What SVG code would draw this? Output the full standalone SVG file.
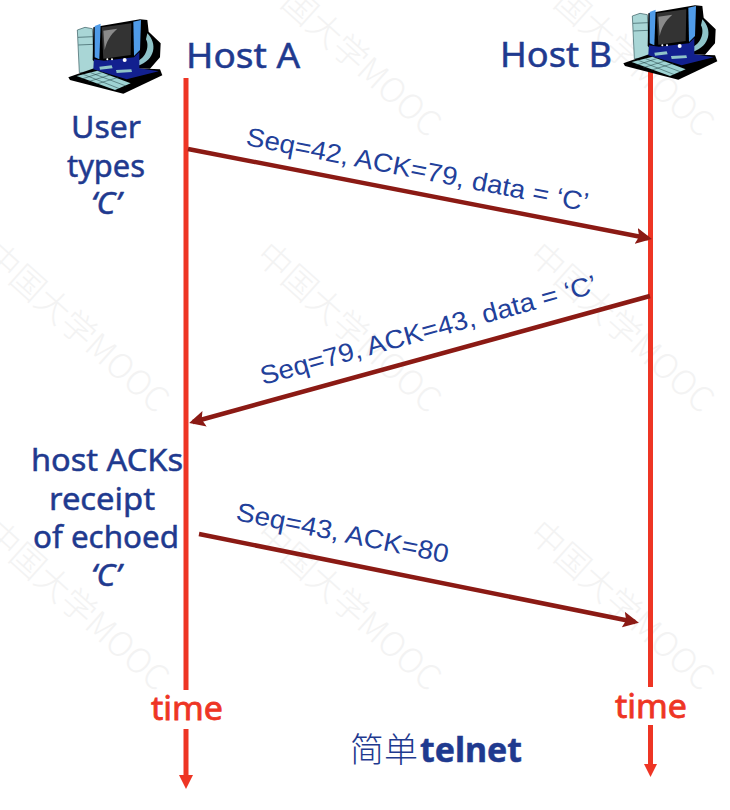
<svg xmlns="http://www.w3.org/2000/svg" width="730" height="810" viewBox="0 0 730 810">
<style>
.wm{font-family:"Noto Sans CJK SC","Noto Sans",sans-serif;font-size:34px;font-weight:300;fill:#f3f3f3}
.hand{font-family:"Noto Sans","Noto Sans CJK SC",sans-serif;fill:#1f3a8f;stroke:#1f3a8f;stroke-width:.5px}
.big{font-size:34px}
.mid{font-size:31px}
.seq{font-family:"Liberation Sans",Arial,sans-serif;font-size:26px;fill:#22409a}
.time{font-family:"Noto Sans",sans-serif;font-size:33px;fill:#ee3524;stroke:#ee3524;stroke-width:.8px}
.life{stroke:#ee3524;stroke-width:5;fill:none}
.msg{stroke:#8b1a14;stroke-width:4.500;fill:none;marker-end:url(#ah)}
</style>
<defs>
<marker id="ah" markerUnits="userSpaceOnUse" markerWidth="18" markerHeight="16" refX="12" refY="8" orient="auto"><path d="M0,0L16,8L0,16L3,8Z" fill="#8b1a14"/></marker>
<g id="pc">
<path d="M52,90L75,82L97,86L104,215L58,218Z" fill="#a9d6d6" stroke="#33585c" stroke-width="2"/>
<path d="M54,112L100,110M55,135L100,133" stroke="#33585c" stroke-width="2" fill="none"/>
<path d="M25,232L115,200L300,208L307,226L190,281L30,240Z" fill="#000"/>
<path d="M100,82L240,58L262,60L266,95L302,130L300,172L270,206L120,200L98,180Z" fill="#000"/>
<path d="M262,100C292,130 288,180 232,198L228,186C262,172 268,135 258,118Z" fill="#8fc4c8"/>
<path d="M104,78L122,71L118,178L104,172Z" fill="#4f9be8"/>
<path d="M220,65L243,60L240,150L222,168Z" fill="#4f9be8"/>
<path d="M125,82L214,70L212,165L130,176Z" fill="#333"/>
<path d="M130,92L172,86C150,105 140,125 134,150Z" fill="#8a8a8a"/>
<path d="M102,178L132,182L222,172L238,156L238,205L296,214L200,238L100,208Z" fill="#12208f"/>
<circle cx="142" cy="178" r="3" fill="#fff"/><circle cx="156" cy="178" r="3" fill="#fff"/><circle cx="194" cy="180" r="6" fill="#fff"/>
<path d="M118,200L155,196L158,205L120,209ZM168,210L214,208L216,216L170,219Z" fill="#8fc4c8"/>
<path d="M50,228L112,212L212,250L165,270Z" fill="#9ed3d3"/>
<path d="M70,223L178,266M92,218L198,258M62,238L125,218M85,245L150,225M110,252L175,232" stroke="#1c3a3c" stroke-width="1.500" fill="none"/>
</g>
</defs>
<g id="watermarks">
<text class="wm" transform="translate(-18,258) rotate(42)">中国大学MOOC</text>
<text class="wm" transform="translate(254,-18) rotate(42)">中国大学MOOC</text>
<text class="wm" transform="translate(527,-18) rotate(42)">中国大学MOOC</text>
<text class="wm" transform="translate(254,258) rotate(42)">中国大学MOOC</text>
<text class="wm" transform="translate(527,258) rotate(42)">中国大学MOOC</text>
<text class="wm" transform="translate(-18,536) rotate(42)">中国大学MOOC</text>
<text class="wm" transform="translate(254,536) rotate(42)">中国大学MOOC</text>
<text class="wm" transform="translate(527,536) rotate(42)">中国大学MOOC</text>
</g>
<g id="connectors">
<path class="life" d="M186,78V690M186,729V776"/>
<path d="M179,775H193L186,789Z" fill="#ee3524"/>
<path class="life" d="M650.500,68V687M650.500,725V765"/>
<path d="M644,764H657L650.500,777Z" fill="#ee3524"/>
<path class="msg" d="M188,149L648,238.200"/>
<path class="msg" d="M650,296L193,422"/>
<path class="msg" d="M199,534L635,622"/>
</g>
<g id="host-a">
<use href="#pc" transform="translate(60,0) scale(.33333)"/>
<text class="hand big" x="186" y="68" textLength="114" lengthAdjust="spacingAndGlyphs">Host A</text>
</g>
<g id="host-b">
<use href="#pc" transform="translate(615,-14) scale(.33333)"/>
<text class="hand big" x="500" y="67" textLength="112" lengthAdjust="spacingAndGlyphs">Host B</text>
</g>
<g id="user-note">
<text class="hand mid" x="106" y="138" text-anchor="middle" textLength="70" lengthAdjust="spacingAndGlyphs">User</text>
<text class="hand mid" x="106" y="177" text-anchor="middle" textLength="78" lengthAdjust="spacingAndGlyphs">types</text>
<text class="hand mid" x="106" y="214" text-anchor="middle" font-style="italic" textLength="30" lengthAdjust="spacingAndGlyphs">‘C’</text>
</g>
<g id="ack-note">
<text class="hand mid" x="107" y="471" text-anchor="middle" textLength="152" lengthAdjust="spacingAndGlyphs">host ACKs</text>
<text class="hand mid" x="102" y="510" text-anchor="middle" textLength="106" lengthAdjust="spacingAndGlyphs">receipt</text>
<text class="hand mid" x="106" y="548" text-anchor="middle" textLength="146" lengthAdjust="spacingAndGlyphs">of echoed</text>
<text class="hand mid" x="106" y="586" text-anchor="middle" font-style="italic" textLength="30" lengthAdjust="spacingAndGlyphs">‘C’</text>
</g>
<g id="labels">
<text class="seq" transform="translate(245,145) rotate(11)" textLength="348" lengthAdjust="spacingAndGlyphs">Seq=42, ACK=79, data = ‘C’</text>
<text class="seq" transform="translate(263,385) rotate(-15.500)" textLength="348" lengthAdjust="spacingAndGlyphs">Seq=79, ACK=43, data = ‘C’</text>
<text class="seq" transform="translate(235,520) rotate(11.500)" textLength="216" lengthAdjust="spacingAndGlyphs">Seq=43, ACK=80</text>
</g>
<g id="time-a"><text class="time" x="187" y="720" text-anchor="middle" textLength="72" lengthAdjust="spacingAndGlyphs">time</text></g>
<g id="time-b"><text class="time" x="651" y="718" text-anchor="middle" textLength="72" lengthAdjust="spacingAndGlyphs">time</text></g>
<g id="caption">
<text x="350" y="762" font-family="Noto Sans CJK SC,sans-serif" font-size="34" font-weight="300" fill="#1f3a8f">简单</text>
<text class="hand big" x="420" y="762" textLength="102" lengthAdjust="spacingAndGlyphs" font-weight="700">telnet</text>
</g>
</svg>
